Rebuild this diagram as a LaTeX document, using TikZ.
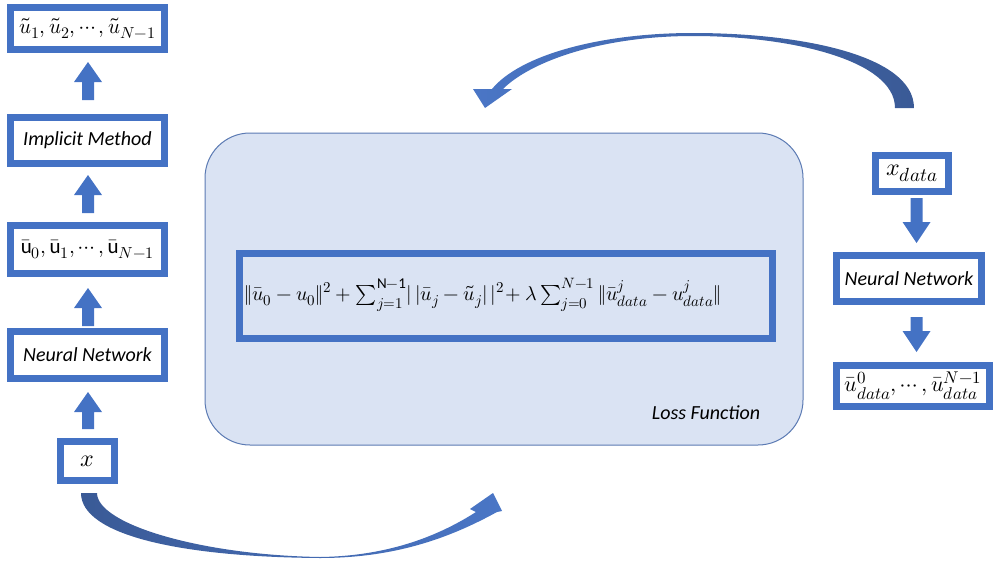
\documentclass[tikz,border=0pt]{standalone}
\usepackage{fontspec}
\usepackage{amsmath}
\usepackage{unicode-math}
\setmainfont{Carlito}
\setmathfont{Latin Modern Math}
\DeclareMathSizes{20}{20}{15}{11}
\DeclareMathSizes{21}{21}{16}{11.5}
\DeclareMathSizes{22}{22}{17}{12}
\DeclareMathSizes{24}{24}{19}{14}
\definecolor{boxblue}{HTML}{4472C4}
\definecolor{lossfill}{HTML}{DAE3F3}
\definecolor{lossline}{HTML}{5B7AB3}
\definecolor{arrdark}{HTML}{3A5A96}
\definecolor{arrlight}{HTML}{4A76C6}
\newcommand{\blkarrow}[4]{% x, tip, head base, shaft end
  \fill[boxblue] (#1-6,#4) -- (#1-6,#3) -- (#1-14,#3) -- (#1,#2) -- (#1+14,#3) -- (#1+6,#3) -- (#1+6,#4) -- cycle;}
\begin{document}
\begin{tikzpicture}[x=1pt,y=-1pt,
  bx/.style={draw=boxblue, line width=7pt, fill=white, inner sep=0pt, font=\fontsize{21}{25}\selectfont},
  lbl/.style={font=\fontsize{20}{24}\selectfont\itshape, inner sep=0pt}]
\useasboundingbox (0,0) rectangle (997,568);
% loss function area
\node[draw=lossline, line width=1pt, fill=lossfill, rounded corners=45pt, minimum width=598pt, minimum height=312pt, inner sep=0pt] (loss) at (504,289) {};
\node[draw=boxblue, line width=7pt, fill=lossfill, minimum width=533pt, minimum height=85pt, inner sep=0pt] (fbox) at (506,296) {};
\node[anchor=west, inner sep=0pt, font=\fontsize{20}{24}\selectfont] (ftext) at ([xshift=8pt,yshift=1pt]fbox.west)
  {$\|\bar u_0 - u_0\|^2 + \sum_{j=1}^{\mathrm{N-1}} \lvert\,\lvert\bar u_j - \tilde u_j\rvert\,\rvert^2\!+ \lambda\sum_{j=0}^{N-1}\|\bar u^j_{data} - u^j_{data}\|$};
\node[lbl] (losslbl) at (706,413) {Loss Function};
% left column
\node[bx, minimum width=154pt, minimum height=42pt] (b1) at (87.5,28.5) {$\tilde u_1, \tilde u_2, \cdots, \tilde u_{N-1}$};
\node[bx, minimum width=154pt, minimum height=46pt, font=\fontsize{20}{24}\selectfont\itshape] (b2) at (87.5,140.5) {Implicit Method};
\node[bx, minimum width=154pt, minimum height=48pt] (b3) at (87.5,249.5) {$\bar{\mathrm{u}}_0,\bar{\mathrm{u}}_1, \cdots, \bar{\mathrm{u}}_{N-1}$};
\node[bx, minimum width=154pt, minimum height=47pt, font=\fontsize{20}{24}\selectfont\itshape] (b4) at (87.5,355) {Neural Network};
\node[bx, minimum width=54pt, minimum height=39pt, font=\fontsize{24}{28}\selectfont] (b5) at (87.5,461) {$x$};
\blkarrow{88}{62}{82}{100}
\blkarrow{88}{175}{195}{213}
\blkarrow{88}{288}{308}{326}
\blkarrow{88}{392}{412}{429}
% right column
\node[bx, minimum width=73pt, minimum height=36pt, font=\fontsize{24}{28}\selectfont] (r1) at (912,173.5) {$x_{data}$};
\node[bx, minimum width=145pt, minimum height=46pt, font=\fontsize{20}{24}\selectfont\itshape] (r2) at (909,278.5) {Neural Network};
\node[bx, minimum width=153pt, minimum height=41pt, font=\fontsize{22}{26}\selectfont] (r3) at (913,386) {$\bar u^0_{data},\cdots,\bar u^{N-1}_{data}$};
\blkarrow{916.5}{243}{222}{198}
\blkarrow{916.5}{352}{331}{317}
% curved arrows
\shade[left color=arrdark, right color=arrlight]
  (81,493) .. controls (81,535) and (180,557) .. (320,558)
  .. controls (400,558) and (455,535) .. (497,512)
  -- (502,511) -- (493,493) -- (470,509) -- (476,512)
  .. controls (440,535) and (390,556) .. (320,557)
  .. controls (200,555) and (97,524) .. (97,493) -- cycle;
\shade[left color=arrlight, right color=arrdark]
  (914,108) .. controls (914,55) and (800,33) .. (693,33)
  .. controls (600,33) and (520,55) .. (492,89)
  -- (473,89) -- (485,108) -- (512,89) -- (503,89)
  .. controls (530,62) and (600,36) .. (693,36)
  .. controls (790,36) and (895,60) .. (895,108) -- cycle;
\end{tikzpicture}
\end{document}
